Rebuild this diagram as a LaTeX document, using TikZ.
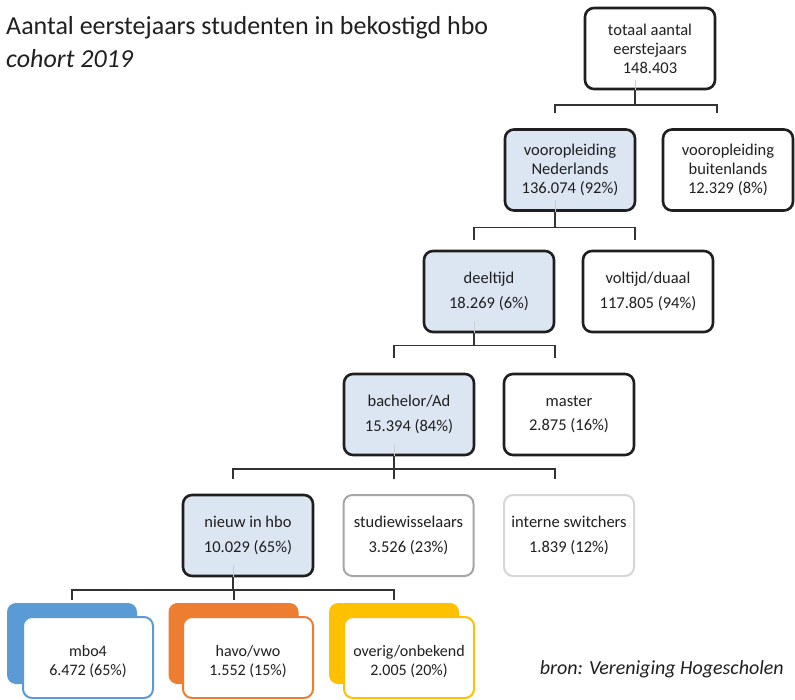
\documentclass[tikz,border=0pt]{standalone}
\usepackage{fontspec}
\setmainfont{Carlito}
\usetikzlibrary{calc}
\definecolor{hlblue}{HTML}{DCE6F2}
\definecolor{cblue}{HTML}{5B9BD5}
\definecolor{corange}{HTML}{ED7D31}
\definecolor{cyellow}{HTML}{FFC000}
\definecolor{txt}{HTML}{1F1F1F}
\definecolor{midgray}{HTML}{A6A6A6}
\definecolor{lightgray}{HTML}{D6D6D6}
\begin{document}
\begin{tikzpicture}[x=1pt,y=-1pt,
  box/.style={draw=txt, line width=2.6pt, rounded corners=9pt, minimum width=130pt, minimum height=81pt, align=center, font=\fontsize{16.5}{19}\selectfont, text=txt, inner sep=2pt, fill=white},
  hl/.style={box, fill=hlblue},
  twoline/.style={font=\fontsize{16.5}{24.5}\selectfont},
  greybox/.style={box, line width=2pt, draw=midgray},
  palebox/.style={box, line width=2pt, draw=lightgray},
  backbox/.style={fill=#1, rounded corners=9pt, minimum width=130pt, minimum height=81pt, inner sep=0pt},
  frontbox/.style={draw=#1, line width=2pt, rounded corners=9pt, minimum width=130pt, minimum height=81pt, inner sep=0pt, fill=white},
  fronttxt/.style={align=center, inner sep=0pt, text=txt, font=\fontsize{16}{19.5}\selectfont},
  conn/.style={draw=black!80, line width=1.6pt},
  faint/.style={draw=black!20, line width=1pt}
]
\useasboundingbox (0,0) rectangle (795,700);

% title
\node[anchor=base west, inner sep=0pt, text=txt, font=\fontsize{26}{30}\selectfont] (title) at (6,35) {Aantal eerstejaars studenten in bekostigd hbo};
\node[anchor=base west, inner sep=0pt, text=txt, font=\fontsize{26}{30}\selectfont\itshape] (sub) at (6,68) {cohort 2019};
\node[anchor=base east, inner sep=0pt, text=txt, font=\fontsize{20}{24}\selectfont\itshape] (src) at (784,674) {bron: Vereniging Hogescholen};

% level 1
\node[box] (tot) at (650,48.5) {totaal aantal\\eerstejaars\\148.403};
% level 2
\node[hl] (nl) at (570,170) {vooropleiding\\Nederlands\\136.074 (92\%)};
\node[box] (bl) at (728,170) {vooropleiding\\buitenlands\\12.329 (8\%)};
% level 3
\node[hl, twoline] (dt) at (489,291.5) {deeltijd\\18.269 (6\%)};
\node[box, twoline] (vt) at (648,291.5) {voltijd/duaal\\117.805 (94\%)};
% level 4
\node[hl, twoline] (ba) at (409,414.5) {bachelor/Ad\\15.394 (84\%)};
\node[box, twoline] (ma) at (569,414.5) {master\\2.875 (16\%)};
% level 5
\node[hl, twoline] (nw) at (248,535.5) {nieuw in hbo\\10.029 (65\%)};
\node[greybox, twoline] (sw) at (408.5,535.5) {studiewisselaars\\3.526 (23\%)};
\node[palebox, twoline] (is) at (569,535.5) {interne switchers\\1.839 (12\%)};
% level 6
\node[backbox=cblue] (mboB) at (72,643.5) {};
\node[frontbox=cblue] (mbo) at (88,657.5) {};
\node[fronttxt] (mboT) at ([yshift=-4pt]mbo.center) {mbo4\\6.472 (65\%)};
\node[backbox=corange] (havB) at (233.5,643.5) {};
\node[frontbox=corange] (hav) at (248,657.5) {};
\node[fronttxt] (havT) at ([yshift=-4pt]hav.center) {havo/vwo\\1.552 (15\%)};
\node[backbox=cyellow] (ovB) at (394,643.5) {};
\node[frontbox=cyellow] (ov) at (409,657.5) {};
\node[fronttxt] (ovT) at ([yshift=-4pt]ov.center) {overig/onbekend\\2.005 (20\%)};

% connectors level 1 -> 2
\draw[conn] ([xshift=-15pt,yshift=15pt]nl.north) -- ++(0,8pt) coordinate (h1) -| ([xshift=-11pt,yshift=15pt]bl.north);
\coordinate (p1) at ([xshift=-15pt]tot.south);
\draw[conn] (p1) -- (p1 |- h1);
\draw[faint] (p1) -- ++(0,10pt);

% level 2 -> 3
\draw[conn] ([xshift=-15pt,yshift=10pt]dt.north) -- ++(0,12pt) coordinate (h2) -| ([xshift=-13pt,yshift=10pt]vt.north);
\coordinate (p2) at ([xshift=-15pt]nl.south);
\draw[conn] (p2) -- (p2 |- h2);
\draw[faint] (p2) -- ++(0,12pt);

% level 3 -> 4
\draw[conn] ([xshift=-15pt,yshift=15pt]ba.north) -- ++(0,12pt) coordinate (h3) -| ([xshift=-14pt,yshift=15pt]ma.north);
\coordinate (p3) at ([xshift=-15pt]dt.south);
\draw[conn] (p3) -- (p3 |- h3);
\draw[faint] (p3) -- ++(0,12pt);

% level 4 -> 5
\draw[conn] ([xshift=-15pt,yshift=15pt]nw.north) -- ++(0,10pt) coordinate (h4) -| ([xshift=-14pt,yshift=15pt]is.north);
\coordinate (c4) at ([xshift=-14.5pt,yshift=15pt]sw.north);
\draw[conn] (c4) -- (c4 |- h4);
\coordinate (p4) at ([xshift=-15pt]ba.south);
\draw[conn] (p4) -- (p4 |- h4);
\draw[faint] (p4) -- ++(0,12pt);

% level 5 -> 6
\draw[conn] ([xshift=-16pt,yshift=16pt]mbo.north) -- ++(0,10pt) coordinate (h5) -| ([xshift=-15pt,yshift=16pt]ov.north);
\coordinate (c5) at ([xshift=-14pt,yshift=16pt]hav.north);
\draw[conn] (c5) -- (c5 |- h5);
\coordinate (p5) at ([xshift=-15pt]nw.south);
\draw[conn] (p5) -- (p5 |- h5);
\draw[faint] (p5) -- ++(0,12pt);
\end{tikzpicture}
\end{document}
